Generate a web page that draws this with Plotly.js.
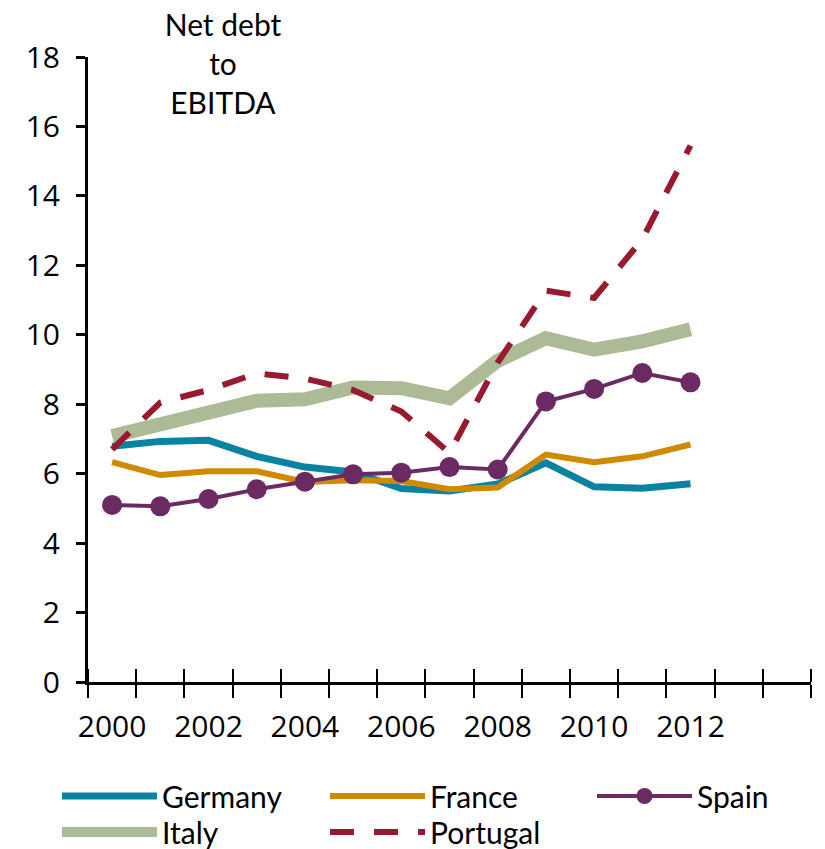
<!DOCTYPE html>
<html>
<head>
<meta charset="utf-8">
<script src="https://cdn.plot.ly/plotly-3.0.1.min.js"></script>
<style>html,body{margin:0;padding:0;background:#fff;}#chart{width:825px;height:849px;}</style>
</head>
<body>
<div id="chart"></div>
<script>
var years = [2000,2001,2002,2003,2004,2005,2006,2007,2008,2009,2010,2011,2012];
var germany  = [6.79,6.93,6.96,6.50,6.19,6.05,5.57,5.50,5.70,6.31,5.62,5.58,5.71];
var france   = [6.33,5.96,6.07,6.07,5.76,5.81,5.79,5.55,5.60,6.55,6.33,6.50,6.84];
var spain    = [5.10,5.06,5.27,5.55,5.77,5.98,6.03,6.19,6.12,8.08,8.44,8.90,8.63];
var italy    = [7.08,7.39,7.74,8.10,8.14,8.48,8.46,8.17,9.25,9.90,9.57,9.81,10.16];
var portugal = [6.70,8.05,8.41,8.89,8.74,8.41,7.79,6.60,9.20,11.27,11.06,12.75,15.45];
var xTickVals = [2000,2002,2004,2006,2008,2010,2012];
var xTickText = ['2000','2002','2004','2006','2008','2010','2012'];
var titleText = 'Net debt<br>to<br>EBITDA';

var traces = [
  {x: years, y: germany, name: 'Germany', mode: 'lines', legend: 'legend', legendrank: 1,
   line: {color: '#0a83a0', width: 7}},
  {x: years, y: france, name: 'France', mode: 'lines', legend: 'legend', legendrank: 2,
   line: {color: '#d08a00', width: 6}},
  {x: years, y: italy, name: 'Italy', mode: 'lines', legend: 'legend2', legendrank: 4,
   line: {color: '#adba96', width: 14}},
  {x: years, y: portugal, name: 'Portugal', mode: 'lines', legend: 'legend2', legendrank: 5,
   line: {color: '#981a31', width: 6, dash: '24px,20px'}},
  {x: years, y: spain, name: 'Spain', mode: 'lines+markers', legend: 'legend3', legendrank: 3,
   line: {color: '#6b2a62', width: 4},
   marker: {color: '#6b2a62', size: 20}}
];

var legendFont = {family: 'Lato, sans-serif', size: 30, color: '#000'};
function legendBox(xPix, yPix) {
  return {
    orientation: 'h', xref: 'container', yref: 'container',
    x: xPix/825, xanchor: 'left', y: 1 - yPix/849, yanchor: 'middle',
    font: legendFont, itemwidth: 95, entrywidth: 158, entrywidthmode: 'pixels',
    tracegroupgap: 0, bgcolor: 'rgba(0,0,0,0)', borderwidth: 0
  };
}

var layout = {
  width: 825, height: 849,
  margin: {l: 88, r: 14, t: 57, b: 167},
  paper_bgcolor: '#ffffff', plot_bgcolor: '#ffffff',
  showlegend: true,
  title: {text: titleText, x: 223/825, xanchor: 'center', xref: 'container',
          y: 1 - 36/849, yanchor: 'top', yref: 'container',
          font: {family: 'Lato, sans-serif', size: 30, color: '#000'}},
  xaxis: {
    range: [1999.5, 2014.5], tickmode: 'array', tickvals: xTickVals, ticktext: xTickText,
    ticks: '', showgrid: false, zeroline: false, showline: true, linecolor: '#000', linewidth: 3,
    tickfont: {family: 'Open Sans, sans-serif', size: 30, color: '#000'},
    ticklabelstandoff: 16,
    minor: {tick0: 1999.5, dtick: 1, ticks: 'outside', ticklen: 13, tickwidth: 2, tickcolor: '#000', showgrid: false}
  },
  xaxis2: {
    overlaying: 'x', anchor: 'y', range: [1999.5, 2014.5], showticklabels: false,
    ticks: '', showgrid: false, zeroline: false, showline: false,
    minor: {tick0: 1999.5, dtick: 1, ticks: 'inside', ticklen: 13, tickwidth: 2, tickcolor: '#000', showgrid: false}
  },
  yaxis: {
    range: [0, 18], dtick: 2, ticks: 'outside', ticklen: 9, tickwidth: 3, tickcolor: '#000',
    showgrid: false, zeroline: false, showline: true, linecolor: '#000', linewidth: 3,
    tickfont: {family: 'Open Sans, sans-serif', size: 30, color: '#000'},
    ticklabelstandoff: 10
  },
  legend: legendBox(57, 796),
  legend2: legendBox(57, 832),
  legend3: legendBox(592, 796)
};

traces.push({x: [1999.5], y: [0], xaxis: 'x2', yaxis: 'y', mode: 'markers',
  marker: {opacity: 0}, showlegend: false, hoverinfo: 'skip'});

Plotly.newPlot('chart', traces, layout, {displayModeBar: false, staticPlot: true});
</script>
</body>
</html>
